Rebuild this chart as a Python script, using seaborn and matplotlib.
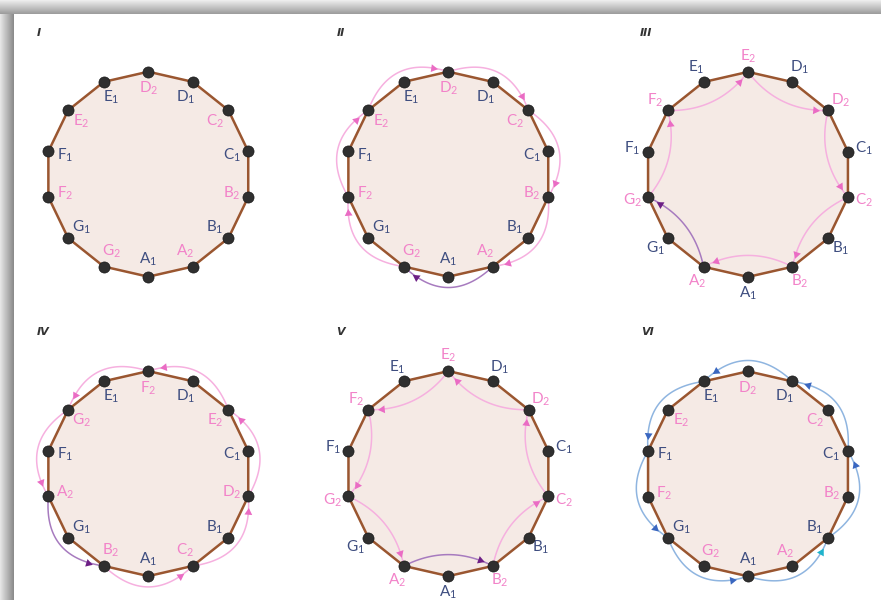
import numpy as np
import pandas as pd
import matplotlib
matplotlib.use("Agg")
import matplotlib.pyplot as plt
import seaborn as sns

sns.set_theme(style="white")
plt.rcParams['font.family'] = ['Lato', 'DejaVu Sans']

# ---------------- data ----------------
panel_titles = ["I", "II", "III", "IV", "V", "VI"]
labels_I = ["D2", "D1", "C2", "C1", "B2", "B1", "A2", "A1", "G2", "G1", "F2", "F1", "E2", "E1"]
labels_II = ["D2", "D1", "C2", "C1", "B2", "B1", "A2", "A1", "G2", "G1", "F2", "F1", "E2", "E1"]
labels_III = ["E2", "D1", "D2", "C1", "C2", "B1", "B2", "A1", "A2", "G1", "G2", "F1", "F2", "E1"]
labels_IV = ["F2", "D1", "E2", "C1", "D2", "B1", "C2", "A1", "B2", "G1", "A2", "F1", "G2", "E1"]
labels_V = ["E2", "D1", "D2", "C1", "C2", "B1", "B2", "A1", "A2", "G1", "G2", "F1", "F2", "E1"]
labels_VI = ["D2", "D1", "C2", "C1", "B2", "B1", "A2", "A1", "G2", "G1", "F2", "F1", "E2", "E1"]

cycle_II = ["D2", "C2", "B2", "A2", "G2", "F2", "E2", "D2"]
cycle_III = ["E2", "D2", "C2", "B2", "A2", "G2", "F2", "E2"]
cycle_IV = ["F2", "G2", "A2", "B2", "C2", "D2", "E2", "F2"]
cycle_V = ["E2", "F2", "G2", "A2", "B2", "C2", "D2", "E2"]
cycle_VI = ["D1", "E1", "F1", "G1", "A1", "B1", "C1", "D1"]
highlight_step = {"II": ("A2", "G2"), "III": ("A2", "G2"), "IV": ("A2", "B2"),
                  "V": ("A2", "B2"), "VI": ("A1", "B1")}

panel_labels = {"I": labels_I, "II": labels_II, "III": labels_III,
                "IV": labels_IV, "V": labels_V, "VI": labels_VI}
panel_cycles = {"II": cycle_II, "III": cycle_III, "IV": cycle_IV,
                "V": cycle_V, "VI": cycle_VI}

# ---------------- layout / style ----------------
centers = {"I": (148.3, 174.2), "II": (448.3, 174.2), "III": (748.0, 174.4),
           "IV": (148.3, 473.6), "V": (448.4, 473.6), "VI": (748.0, 473.8)}
title_pos = {"I": (37, 33), "II": (337, 33), "III": (640, 33),
             "IV": (37, 332), "V": (336, 332), "VI": (641, 332)}
label_outside = {"I": False, "II": False, "III": True, "IV": False, "V": True, "VI": False}
arc_outside = {"II": True, "III": False, "IV": True, "V": False, "VI": True}
R = 102.5
N = 14

BLUE_TXT = "#3f4e80"
PINK_TXT = "#f283c9"
EDGE = "#9a5630"
FILL = "#f5eae5"
DOT = "#2f2f2f"

arc_style = {
    "pink": dict(line="#f6b0df", head="#ea6cc4"),
    "purple": dict(line="#a77bbf", head="#6d1f85"),
    "blue": dict(line="#8fb5e0", head="#3a67c0"),
    "cyan": dict(line="#8fb5e0", head="#1fb3cc"),
}

W, H = 881, 600
fig = plt.figure(figsize=(W / 100, H / 100), dpi=100)
ax = fig.add_axes([0, 0, 1, 1])
ax.set_facecolor("white")

# frame shadow (top and left)
top = np.linspace(0.93, 0.62, 14).reshape(-1, 1)
ax.imshow(np.repeat(top, 2, axis=1), cmap="gray", vmin=0, vmax=1,
          extent=[0, W, 14, 0], aspect="auto", zorder=0.5, interpolation="bilinear")
left = np.linspace(0.90, 0.55, 14).reshape(1, -1)
ax.imshow(np.repeat(left, 2, axis=0), cmap="gray", vmin=0, vmax=1,
          extent=[0, 14, H, 14], aspect="auto", zorder=0.5, interpolation="bilinear")


def angle(k):
    return np.deg2rad(90 - k * 360.0 / N)


def vpos(cx, cy, k, rr=R):
    a = angle(k)
    return cx + rr * np.cos(a), cy - rr * np.sin(a)


rows = []
for p in panel_titles:
    cx, cy = centers[p]
    labs = panel_labels[p]
    # polygon
    pts = np.array([vpos(cx, cy, k) for k in range(N)])
    ax.fill(pts[:, 0], pts[:, 1], color=FILL, zorder=1)
    closed = np.vstack([pts, pts[:1]])
    ax.plot(closed[:, 0], closed[:, 1], color=EDGE, lw=1.8, zorder=2)
    # labels
    for k, lab in enumerate(labs):
        rr = R + 16 if label_outside[p] else R - 17
        lx, ly = vpos(cx, cy, k, rr)
        col = PINK_TXT if lab.endswith("2") else BLUE_TXT
        ax.text(lx, ly, r"$\mathregular{%s_{%s}}$" % (lab[0], lab[1]), color=col,
                fontsize=11, ha="center", va="center", zorder=4)
        rows.append({"panel": p, "x": pts[k, 0], "y": pts[k, 1]})
    # title
    tx, ty = title_pos[p]
    ax.text(tx, ty, p, fontsize=8, style="italic", fontweight="bold", color="#333333",
            ha="left", va="center", family=["DejaVu Sans"], zorder=4)

    # arcs
    if p in panel_cycles:
        cyc = panel_cycles[p]
        f = 1.31 if arc_outside[p] else 0.68
        for a_lab, b_lab in zip(cyc[:-1], cyc[1:]):
            i = labs.index(a_lab)
            j = labs.index(b_lab)
            d = (j - i) % N
            step = 1 if d == 2 else -1
            m = i + step
            P0 = np.array(vpos(cx, cy, i))
            P2 = np.array(vpos(cx, cy, j))
            C = np.array(vpos(cx, cy, m, f * R))
            t = np.linspace(0, 1, 60)[:, None]
            B = (1 - t) ** 2 * P0 + 2 * (1 - t) * t * C + t ** 2 * P2
            if (a_lab, b_lab) == highlight_step[p]:
                key = "cyan" if p == "VI" else "purple"
            else:
                key = "blue" if p == "VI" else "pink"
            st = arc_style[key]
            ax.plot(B[:, 0], B[:, 1], color=st["line"], lw=1.1, zorder=3)
            ta = 0.86
            pa = (1 - ta) ** 2 * P0 + 2 * (1 - ta) * ta * C + ta ** 2 * P2
            tg = 2 * (1 - ta) * (C - P0) + 2 * ta * (P2 - C)
            ang = np.degrees(np.arctan2(-tg[1], tg[0]))
            ax.plot([pa[0]], [pa[1]], marker=(3, 0, ang - 90), color=st["head"],
                    markersize=6.5, markeredgewidth=0, zorder=3.5)

verts = pd.DataFrame(rows)
sns.scatterplot(data=verts, x="x", y="y", color=DOT, s=64, edgecolor="#1a1a1a",
                linewidth=0.5, zorder=5, ax=ax, legend=False)

ax.set_xlim(0, W)
ax.set_ylim(H, 0)
ax.axis("off")
fig.savefig("out.png", dpi=100, facecolor="white")
